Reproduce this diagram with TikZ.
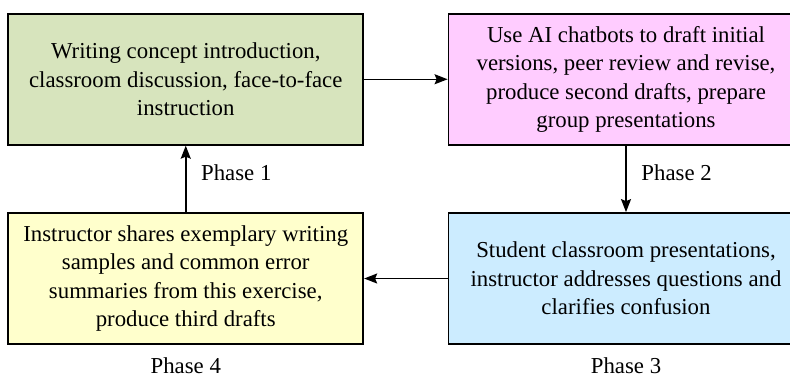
\documentclass[tikz,border=0pt]{standalone}
\usepackage{fontspec}
\setmainfont{Liberation Serif}
\newfontfamily\phasefont{Liberation Serif}
\usetikzlibrary{positioning,arrows.meta}

\definecolor{introgreen}{RGB}{215,228,189}
\definecolor{draftpink}{RGB}{255,204,255}
\definecolor{presentblue}{RGB}{204,236,255}
\definecolor{shareyellow}{RGB}{255,255,204}

\tikzset{
  phasebox/.style={draw, line width=0.9pt, minimum width=177.5pt,
    minimum height=65.5pt, align=center, inner sep=0pt},
  flow/.style={line width=0.75pt, -{Stealth[length=6.5pt,width=5pt,inset=1pt]}},
  phaselabel/.style={inner sep=1pt}
}

\begin{document}
\begin{tikzpicture}[x=0.5pt, y=-0.5pt, font=\phasefont\fontsize{11.4}{14.2}\selectfont]
    \clip (0,0) rectangle (790,377);
    \node[phasebox, fill=introgreen]  (intro)   at (185.75,79.25)
      {Writing concept introduction,\\classroom discussion, face-to-face\\instruction};
    \node[phasebox, fill=draftpink]   (draft)   at (626,79.25)
      {Use AI chatbots to draft initial\\versions, peer review and revise,\\produce second drafts, prepare\\group presentations};
    \node[phasebox, fill=presentblue] (present) at (626,278.5)
      {Student classroom presentations,\\instructor addresses questions and\\clarifies confusion};
    \node[phasebox, fill=shareyellow] (share)   at (185.75,278.5)
      {Instructor shares exemplary writing\\samples and common error\\summaries from this exercise,\\produce third drafts};
    \draw[flow] (intro) -- (draft);
    \draw[flow] (draft) -- node[right=4pt, yshift=3pt] (ph2) {Phase 2} (present);
    \draw[flow] (present) -- (share);
    \draw[flow] (share) -- node[right=4pt, yshift=3pt] (ph1) {Phase 1} (intro);
    \node[phaselabel, below=5pt of present] (ph3) {Phase 3};
    \node[phaselabel, below=5pt of share]   (ph4) {Phase 4};
  \end{tikzpicture}
\end{document}
